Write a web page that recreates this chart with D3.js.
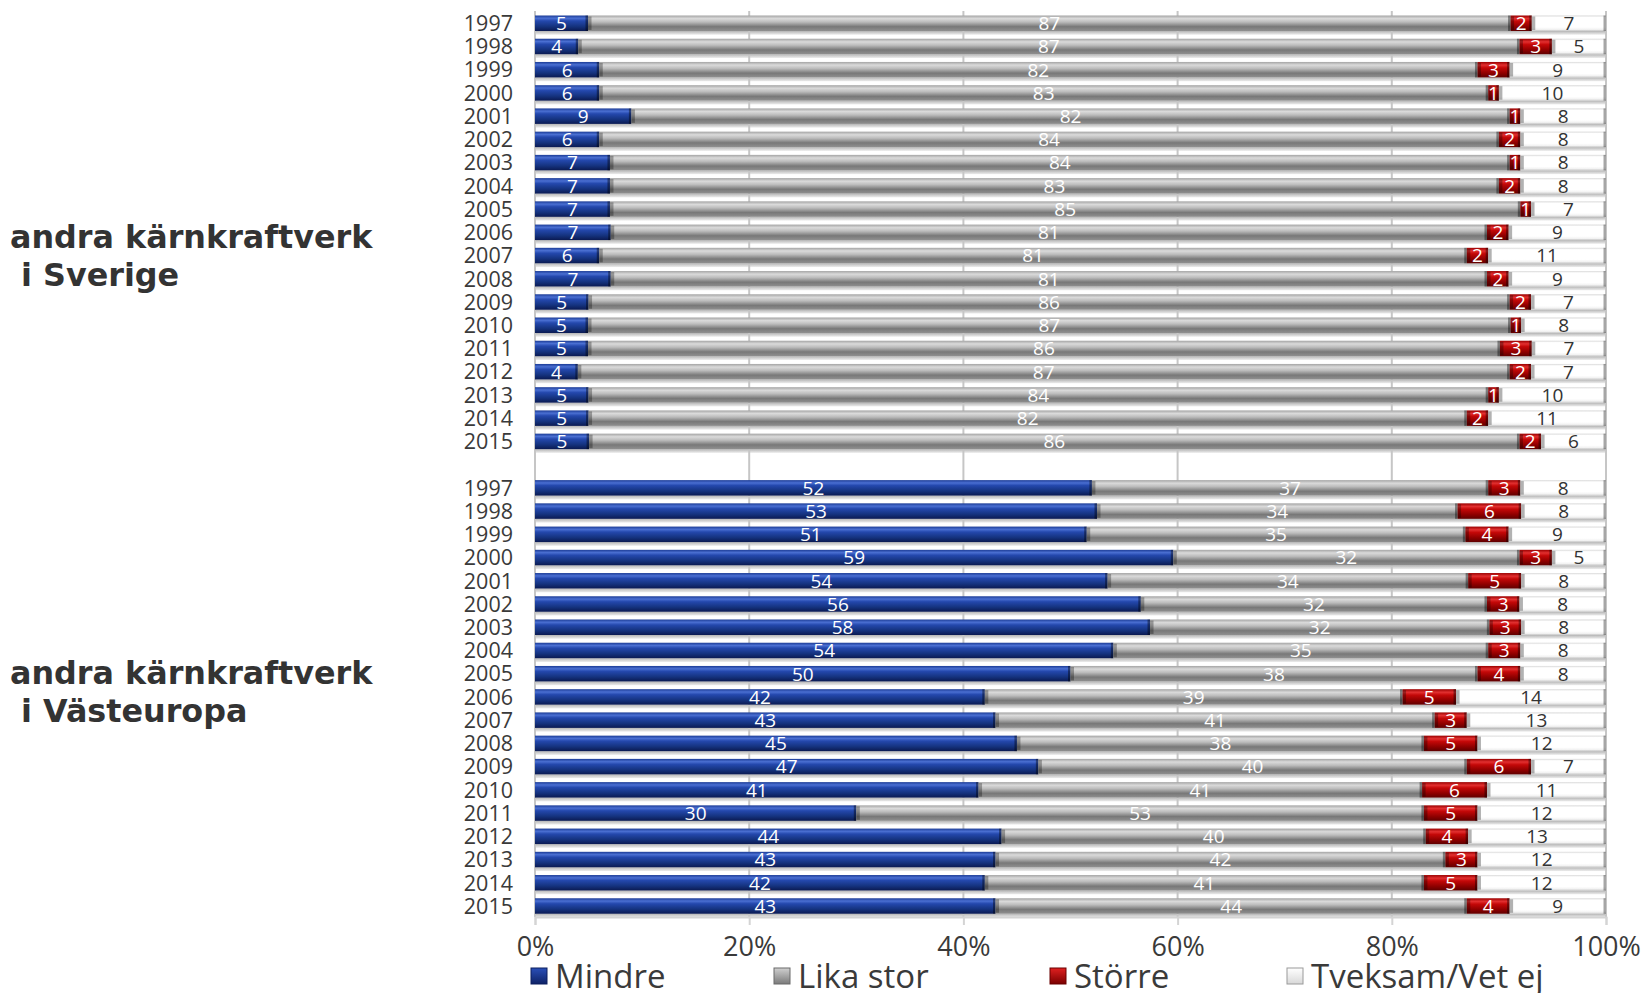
<!DOCTYPE html>
<html>
<head>
<meta charset="utf-8">
<script src="https://cdn.jsdelivr.net/npm/d3@7"></script>
<style>
  html, body { margin: 0; padding: 0; background: #ffffff; }
  svg { display: block; }
</style>
</head>
<body>
<svg id="chart" width="1644" height="993"></svg>
<script>
// ---------------- DATA ----------------
const years = ["1997","1998","1999","2000","2001","2002","2003","2004","2005","2006","2007","2008","2009","2010","2011","2012","2013","2014","2015"];
const seriesNames = ["Mindre", "Lika stor", "Större", "Tveksam/Vet ej"];
const groupTitles = [["andra kärnkraftverk", " i Sverige"], ["andra kärnkraftverk", " i Västeuropa"]];
const tickValues = [0, 0.2, 0.4, 0.6, 0.8, 1];

// Group 1: andra kärnkraftverk i Sverige
const sverigeMindre  = [5, 4, 6, 6, 9, 6, 7, 7, 7, 7, 6, 7, 5, 5, 5, 4, 5, 5, 5];
const sverigeLika    = [87, 87, 82, 83, 82, 84, 84, 83, 85, 81, 81, 81, 86, 87, 86, 87, 84, 82, 86];
const sverigeStorre  = [2, 3, 3, 1, 1, 2, 1, 2, 1, 2, 2, 2, 2, 1, 3, 2, 1, 2, 2];
const sverigeTveksam = [7, 5, 9, 10, 8, 8, 8, 8, 7, 9, 11, 9, 7, 8, 7, 7, 10, 11, 6];

// Group 2: andra kärnkraftverk i Västeuropa
const vastMindre  = [52, 53, 51, 59, 54, 56, 58, 54, 50, 42, 43, 45, 47, 41, 30, 44, 43, 42, 43];
const vastLika    = [37, 34, 35, 32, 34, 32, 32, 35, 38, 39, 41, 38, 40, 41, 53, 40, 42, 41, 44];
const vastStorre  = [3, 6, 4, 3, 5, 3, 3, 3, 4, 5, 3, 5, 6, 6, 5, 4, 3, 5, 4];
const vastTveksam = [8, 8, 9, 5, 8, 8, 8, 8, 8, 14, 13, 12, 7, 11, 12, 13, 12, 12, 9];

// ---------------- BUILD ROWS ----------------
const groups = [
  { key: "S", values: [sverigeMindre, sverigeLika, sverigeStorre, sverigeTveksam] },
  { key: "V", values: [vastMindre, vastLika, vastStorre, vastTveksam] }
];
const rowKeys = [];
const rows = [];
groups.forEach((g, gi) => {
  if (gi > 0) rowKeys.push("gap" + gi);
  years.forEach((yr, i) => {
    const key = g.key + yr;
    rowKeys.push(key);
    const vals = g.values.map(arr => arr[i]);
    const total = d3.sum(vals);
    let cum = 0;
    const segs = vals.map((v, si) => {
      const s = { series: si, value: v, x0: cum / total, x1: (cum + v) / total };
      cum += v;
      return s;
    });
    rows.push({ key, year: yr, segs });
  });
});

// ---------------- SCALES ----------------
const svg = d3.select("#chart");
const x = d3.scaleLinear().domain([0, 1]).range([535, 1606]);
const y = d3.scaleBand().domain(rowKeys).range([11, 917]).paddingInner(0).paddingOuter(0);
const step = y.bandwidth();
const faceTop = 4.5, faceH = 15.5;

const FONT = "'Open Sans', 'Noto Sans', sans-serif";
const TXT = "#3a3a3a";

// ---------------- GRADIENTS ----------------
const defs = svg.append("defs");
function vgrad(id, stops) {
  const g = defs.append("linearGradient").attr("id", id)
    .attr("x1", 0).attr("y1", 0).attr("x2", 0).attr("y2", 1);
  stops.forEach(([o, c]) => g.append("stop").attr("offset", o).attr("stop-color", c));
}
vgrad("gBlue",  [[0, "#1c3c96"], [0.18, "#4a6fd2"], [0.35, "#2448ad"], [0.7, "#15337f"], [1, "#0b1a52"]]);
vgrad("gGray",  [[0, "#a4a4a4"], [0.2, "#dadada"], [0.42, "#bcbcbc"], [0.72, "#787878"], [1, "#909090"]]);
vgrad("gRed",   [[0, "#9a0000"], [0.2, "#e23030"], [0.38, "#c40808"], [0.72, "#8f0000"], [1, "#600000"]]);
vgrad("gWhite", [[0, "#d8d8d8"], [0.12, "#ffffff"], [0.75, "#ffffff"], [0.9, "#f2f2f2"], [1, "#c4c4c4"]]);
vgrad("gShadow",[[0, "#b4b4b4"], [0.5, "#d2d2d2"], [1, "#ececec"]]);
vgrad("gLegBlue",  [[0, "#2a4fb8"], [1, "#0e2266"]]);
vgrad("gLegGray",  [[0, "#d0d0d0"], [1, "#7a7a7a"]]);
vgrad("gLegRed",   [[0, "#e02020"], [1, "#7a0000"]]);
vgrad("gLegWhite", [[0, "#ffffff"], [1, "#d8d8d8"]]);
const fills = ["url(#gBlue)", "url(#gGray)", "url(#gRed)", "url(#gWhite)"];
const legFills = ["url(#gLegBlue)", "url(#gLegGray)", "url(#gLegRed)", "url(#gLegWhite)"];
const legStroke = ["#0c1f5e", "#6a6a6a", "#6a0000", "#9a9a9a"];
const labelColors = ["#ffffff", "#ffffff", "#ffffff", "#333333"];

// ---------------- BACKGROUND: shadow strips + grid ----------------
const rowG = svg.append("g");
rowG.selectAll("rect.shadow").data(rows).join("rect")
  .attr("class", "shadow")
  .attr("x", x(0)).attr("width", x(1) - x(0))
  .attr("y", d => y(d.key) + faceTop + faceH)
  .attr("height", step - faceTop - faceH + 0.5)
  .attr("fill", "url(#gShadow)");

const grid = svg.append("g");
grid.selectAll("line").data(tickValues).join("line")
  .attr("x1", d => x(d)).attr("x2", d => x(d))
  .attr("y1", 11).attr("y2", 917)
  .attr("stroke", "#c6c6c6").attr("stroke-width", 2);

// ---------------- BARS ----------------
const barG = svg.append("g");
const rowSel = barG.selectAll("g.row").data(rows).join("g").attr("class", "row")
  .attr("transform", d => `translate(0,${y(d.key) + faceTop})`);

rowSel.selectAll("rect.seg").data(d => d.segs).join("rect")
  .attr("class", "seg")
  .attr("x", d => x(d.x0)).attr("width", d => x(d.x1) - x(d.x0))
  .attr("y", 0).attr("height", faceH)
  .attr("fill", d => fills[d.series]);

// bevelled end caps
rowSel.selectAll("rect.capR").data(d => d.segs).join("rect")
  .attr("class", "capR")
  .attr("x", d => x(d.x1) - 2.5).attr("width", 2.5)
  .attr("y", 0).attr("height", faceH)
  .attr("fill", "#000").attr("opacity", d => d.series === 3 ? 0.35 : 0.4);
rowSel.selectAll("rect.capL").data(d => d.segs.filter(s => s.series > 0)).join("rect")
  .attr("class", "capL")
  .attr("x", d => x(d.x0)).attr("width", 3.5)
  .attr("y", 1).attr("height", faceH - 2)
  .attr("fill", "#000").attr("opacity", 0.3);

// data labels
rowSel.selectAll("text.val").data(d => d.segs).join("text")
  .attr("class", "val")
  .attr("x", d => (x(d.x0) + x(d.x1)) / 2)
  .attr("y", faceH / 2)
  .attr("dy", "0.36em")
  .attr("text-anchor", "middle")
  .attr("font-family", FONT).attr("font-size", 19)
  .attr("fill", d => labelColors[d.series])
  .text(d => d.value);

// ---------------- YEAR LABELS ----------------
svg.append("g").selectAll("text").data(rows).join("text")
  .attr("x", 513)
  .attr("y", d => y(d.key) + faceTop + faceH / 2)
  .attr("dy", "0.36em")
  .attr("text-anchor", "end")
  .attr("font-family", FONT).attr("font-size", 21.5)
  .attr("fill", TXT)
  .text(d => d.year);

// ---------------- GROUP TITLES ----------------
const titleAnchors = [y("S2006") + 28, y("V2005") + 23];
groupTitles.forEach((lines, gi) => {
  const t = svg.append("text")
    .attr("x", 10).attr("y", titleAnchors[gi])
    .attr("font-family", "'DejaVu Sans', Verdana, sans-serif")
    .attr("font-weight", "bold").attr("font-size", 31.8)
    .attr("fill", "#333333")
    .attr("xml:space", "preserve");
  lines.forEach((ln, li) => {
    t.append("tspan").attr("x", 10).attr("dy", li === 0 ? 0 : 38)
      .style("white-space", "pre").text(ln);
  });
});

// ---------------- X AXIS ----------------
const axis = svg.append("g").attr("transform", "translate(0,917)")
  .call(d3.axisBottom(x).tickValues(tickValues).tickFormat(d3.format(".0%")).tickSize(8).tickPadding(12));
axis.select(".domain").attr("stroke", "#d4d4d4").attr("stroke-width", 2);
axis.selectAll(".tick line").attr("stroke", "#d4d4d4").attr("stroke-width", 2);
axis.selectAll(".tick text")
  .attr("font-family", FONT).attr("font-size", 27).attr("fill", TXT);

// ---------------- LEGEND ----------------
const legendX = [531, 774, 1050, 1287];
const leg = svg.append("g").selectAll("g").data(seriesNames).join("g")
  .attr("transform", (d, i) => `translate(${legendX[i]},968)`);
leg.append("rect").attr("width", 16).attr("height", 16)
  .attr("fill", (d, i) => legFills[i])
  .attr("stroke", (d, i) => legStroke[i]).attr("stroke-width", 1);
leg.append("text").attr("x", 24).attr("y", 8).attr("dy", "0.35em")
  .attr("font-family", FONT).attr("font-size", 33).attr("fill", TXT)
  .text(d => d);
</script>
</body>
</html>
